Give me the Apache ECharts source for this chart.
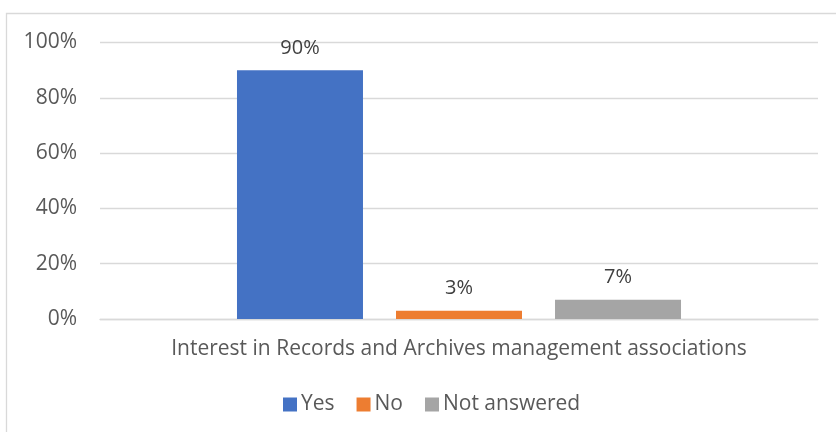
<!DOCTYPE html>
<html>
<head>
<meta charset="utf-8">
<style>
  html, body { margin: 0; padding: 0; background: #fff; }
  #chart { width: 836px; height: 432px; }
</style>
<script src="https://cdn.jsdelivr.net/npm/echarts@6/dist/echarts.min.js"></script>
</head>
<body>
<div id="chart"></div>
<script>
// Survey answers, in percent
const categories = ['Interest in Records and Archives management associations'];
const seriesNames = ['Yes', 'No', 'Not answered'];
const yesValues = [90];
const noValues = [3];
const notAnsweredValues = [7];
const seriesColors = ['#4472C4', '#ED7D31', '#A5A5A5'];
const yTicks = { min: 0, max: 100, interval: 20 };

const FONT = '"Open Sans", "Noto Sans", sans-serif';
const chart = echarts.init(document.getElementById('chart'), null, { renderer: 'canvas' });

const valueSets = [yesValues, noValues, notAnsweredValues];
const series = seriesNames.map((name, i) => ({
  name: name,
  type: 'bar',
  data: valueSets[i],
  barWidth: 126,
  barGap: '26.2%',
  itemStyle: { color: seriesColors[i] },
  label: {
    show: true,
    position: 'top',
    distance: 12,
    formatter: '{c}%',
    color: '#404040',
    fontFamily: FONT,
    fontSize: 20
  }
}));

chart.setOption({
  animation: false,
  backgroundColor: '#fff',
  graphic: [{
    type: 'rect',
    shape: { x: 6.5, y: 13.5, width: 900, height: 500 },
    style: { fill: 'none', stroke: '#D9D9D9', lineWidth: 1.3 },
    silent: true,
    z: -1
  }],
  grid: { left: 100, right: 18, top: 42.5, bottom: 113 },
  legend: {
    data: seriesNames,
    top: 389,
    left: 278,
    icon: 'rect',
    itemWidth: 14,
    itemHeight: 14,
    itemGap: 22,
    textStyle: { color: '#595959', fontFamily: FONT, fontSize: 21, padding: [0, 0, 0, -1] }
  },
  xAxis: {
    type: 'category',
    data: categories,
    axisLine: { show: true, lineStyle: { color: '#D9D9D9', width: 1.3 } },
    axisTick: { show: false },
    axisLabel: { color: '#595959', fontFamily: FONT, fontSize: 21, margin: 20 }
  },
  yAxis: {
    type: 'value',
    min: yTicks.min,
    max: yTicks.max,
    interval: yTicks.interval,
    axisLine: { show: false },
    axisTick: { show: false },
    axisLabel: { formatter: '{value}%', color: '#595959', fontFamily: FONT, fontSize: 21, margin: 23 },
    splitLine: { lineStyle: { color: '#D9D9D9', width: 1.3 } }
  },
  series: series
});
</script>
</body>
</html>
